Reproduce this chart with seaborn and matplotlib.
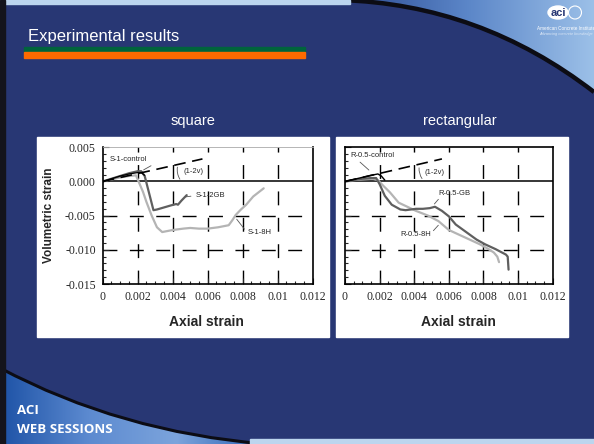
import numpy as np
import pandas as pd
import matplotlib.pyplot as plt
import matplotlib.patches as mpatches
from matplotlib.path import Path
from matplotlib.colors import LinearSegmentedColormap
from matplotlib.ticker import MultipleLocator
import seaborn as sns

#DATA
x_ticks = [0, 0.002, 0.004, 0.006, 0.008, 0.010, 0.012]
x_tick_labels = ['0', '0.002', '0.004', '0.006', '0.008', '0.01', '0.012']
y_ticks = [0.005, 0.0, -0.005, -0.010, -0.015]
y_tick_labels = ['0.005', '0.000', '-0.005', '-0.010', '-0.015']

#square columns
s1_control_x = [0, 0.0005, 0.001, 0.0015, 0.002, 0.0022, 0.0024]
s1_control_y = [0, 0.0004, 0.0008, 0.0011, 0.0013, 0.0013, 0.0009]
s1_2gb_x = [0, 0.0005, 0.001, 0.0015, 0.002, 0.0022, 0.0024, 0.0026, 0.0028, 0.0029,
            0.0031, 0.0035, 0.0039, 0.0042, 0.0043, 0.0045, 0.0048]
s1_2gb_y = [0, 0.0004, 0.0008, 0.0012, 0.0015, 0.0015, 0.0008, -0.0012, -0.0032, -0.0042,
            -0.0041, -0.0038, -0.0035, -0.0033, -0.0034, -0.0028, -0.0020]
s1_8h_x = [0, 0.0005, 0.001, 0.0015, 0.0019, 0.0021, 0.0023, 0.0025, 0.0028, 0.0031,
           0.0034, 0.0036, 0.004, 0.0046, 0.005, 0.0055, 0.006, 0.0066, 0.0072, 0.0074,
           0.0076, 0.0079, 0.0082, 0.0086, 0.0092]
s1_8h_y = [0, 0.0003, 0.0006, 0.0008, 0.0009, -0.0003, -0.0015, -0.003, -0.005, -0.0067,
           -0.0074, -0.0073, -0.0071, -0.0069, -0.0068, -0.0069, -0.0069, -0.0067, -0.0064, -0.0057,
           -0.0049, -0.0041, -0.0034, -0.0022, -0.0010]
s1_ref_x = [0, 0.0057]
s1_ref_y = [0, 0.0033]

#rectangular columns
r_control_x = [0, 0.0005, 0.001, 0.0015, 0.0019, 0.0021, 0.0023]
r_control_y = [0, 0.0003, 0.0006, 0.0009, 0.0011, 0.0008, 0.0002]
r_gb_x = [0, 0.0005, 0.001, 0.0015, 0.0018, 0.002, 0.0023, 0.0027, 0.0032, 0.0035,
          0.0041, 0.0045, 0.0049, 0.0052, 0.0056, 0.006, 0.0064, 0.007, 0.0076, 0.0081,
          0.0087, 0.0093, 0.0094, 0.00945]
r_gb_y = [0, 0.0002, 0.0004, 0.0005, 0.0005, -0.0004, -0.0021, -0.0034, -0.0041, -0.0042,
          -0.0040, -0.0040, -0.0039, -0.0037, -0.0043, -0.0051, -0.0063, -0.0074, -0.0085, -0.0092,
          -0.0099, -0.0107, -0.0110, -0.0129]
r_8h_x = [0, 0.0005, 0.001, 0.0016, 0.0019, 0.0022, 0.0026, 0.0031, 0.0041, 0.0048,
          0.0054, 0.006, 0.0066, 0.0072, 0.0078, 0.0083, 0.0086, 0.0088, 0.0089]
r_8h_y = [0, 0.0002, 0.0003, 0.0004, 0.0002, -0.0006, -0.0016, -0.0031, -0.0043, -0.0050,
          -0.0058, -0.0071, -0.0078, -0.0085, -0.0092, -0.0099, -0.0104, -0.0110, -0.0118]
r_ref_x = [0, 0.0056]
r_ref_y = [0, 0.0033]

#SETUP
sns.set_style('white')
plt.rcParams['font.family'] = ['Liberation Sans', 'DejaVu Sans']

W, H = 594, 444
NAVY = '#283774'
fig = plt.figure(figsize=(5.94, 4.44), dpi=100)
fig.patch.set_facecolor(NAVY)

#background in pixel coords
bg = fig.add_axes([0, 0, 1, 1])
bg.set_xlim(0, W)
bg.set_ylim(H, 0)
bg.axis('off')


def grad_patch(verts, codes, colors, extent):
    patch = mpatches.PathPatch(Path(verts, codes), facecolor='none', edgecolor='none')
    bg.add_patch(patch)
    cmap = LinearSegmentedColormap.from_list('g', colors)
    img = bg.imshow(np.linspace(0, 1, 256)[None, :], cmap=cmap, extent=extent,
                    aspect='auto', zorder=1)
    img.set_clip_path(patch)


#top right swoosh
top_v = [(340, 0), (480, 4), (594, 92), (594, 0), (340, 0)]
top_c = [Path.MOVETO, Path.CURVE3, Path.CURVE3, Path.LINETO, Path.CLOSEPOLY]
grad_patch(top_v, top_c, ['#2a4890', '#5b86c8', '#9cc0e8'], (340, 594, 92, 0))
bg.add_patch(mpatches.PathPatch(Path(top_v[:3], top_c[:3]), facecolor='none',
                                edgecolor='#0c0c14', lw=3.2, zorder=2))
bg.add_patch(mpatches.Rectangle((0, 0), 350, 4, color='#bcd5ee', zorder=2))

#bottom left swoosh
bot_v = [(0, 368), (120, 432), (265, 444), (0, 444), (0, 368)]
bot_c = [Path.MOVETO, Path.CURVE3, Path.CURVE3, Path.LINETO, Path.CLOSEPOLY]
grad_patch(bot_v, bot_c, ['#1d52a6', '#5c8ad0', '#7ca4dc', '#2b62b4'], (0, 265, 444, 368))
bg.add_patch(mpatches.PathPatch(Path(bot_v[:3], bot_c[:3]), facecolor='none',
                                edgecolor='#0c0c14', lw=2.2, zorder=2))
bg.add_patch(mpatches.Rectangle((250, 439), 344, 5, color='#bcd5ee', zorder=2))
bg.add_patch(mpatches.Rectangle((0, 0), 5, H, color='#14141c', zorder=3))

#title and bars
bg.text(28, 36, 'Experimental results', color='white', fontsize=12, va='center',
        family=['Liberation Sans Narrow', 'Liberation Sans'], zorder=3)
bg.add_patch(mpatches.Rectangle((24, 47.5), 281, 5, color='#00643c', zorder=3))
bg.add_patch(mpatches.Rectangle((24, 52.5), 281, 6, color='#ff6a00', zorder=3))

#logo
bg.add_patch(mpatches.Ellipse((558, 12.5), 20, 13, color='white', zorder=3))
bg.text(558, 12.5, 'aci', color=NAVY, fontsize=8, fontweight='bold', ha='center',
        va='center', zorder=4)
bg.add_patch(mpatches.Circle((575, 12.5), 6.5, facecolor='none', edgecolor='white',
                             lw=0.8, zorder=3))
bg.text(566, 28, 'American Concrete Institute', color='white', fontsize=3.3,
        ha='center', va='center', zorder=3)
bg.text(566, 34, 'Advancing concrete knowledge', color='#dde8f6', fontsize=2.8,
        style='italic', ha='center', va='center', zorder=3)

#footer
bg.text(17, 410, 'ACI', color='white', fontsize=9.5, fontweight='bold',
        family=['Open Sans', 'Liberation Sans'], va='center', zorder=3)
bg.text(17, 429, 'WEB SESSIONS', color='white', fontsize=9.5, fontweight='bold',
        family=['Open Sans', 'Liberation Sans'], va='center', zorder=3)

#white panels and subtitles
bg.add_patch(mpatches.Rectangle((37, 137), 292, 200, color='white', zorder=3))
bg.add_patch(mpatches.Rectangle((336, 137), 232, 200, color='white', zorder=3))
bg.text(193, 121, 'square', color='white', fontsize=10.5, ha='center', va='center')
bg.text(460, 121, 'rectangular', color='white', fontsize=10.5, ha='center', va='center')

#CHARTS
ax_b = 1 - 284 / H
ax_h = 136.7 / H
axL = fig.add_axes([102.7 / W, ax_b, 210 / W, ax_h])
axR = fig.add_axes([345 / W, ax_b, 207.7 / W, ax_h])

DARK = '#5f5f5f'
LIGHT = '#b4b4b4'


def draw(ax, x, y, color, lw, ls='-'):
    df = pd.DataFrame({'x': x, 'y': y})
    sns.lineplot(data=df, x='x', y='y', ax=ax, color=color, linewidth=lw,
                 sort=False, estimator=None, linestyle=ls)


def style(ax, ylabels):
    ax.set_facecolor('white')
    ax.set_xlim(0, 0.012)
    ax.set_ylim(-0.015, 0.005)
    ax.set_xticks(x_ticks)
    ax.set_xticklabels(x_tick_labels, family='Liberation Serif', fontsize=8.5)
    ax.set_yticks(y_ticks)
    if ylabels:
        ax.set_yticklabels(y_tick_labels, family='Liberation Serif', fontsize=8.5)
    else:
        ax.set_yticklabels([])
    ax.xaxis.set_minor_locator(MultipleLocator(0.0005))
    ax.yaxis.set_minor_locator(MultipleLocator(0.001))
    ax.tick_params(which='both', direction='in', left=True, bottom=True, width=0.8)
    ax.tick_params(which='major', length=4, pad=5)
    ax.tick_params(which='minor', length=2.5)
    for v in x_ticks[1:-1]:
        ax.axvline(v, color='black', lw=1, ls=(0, (10, 9)), zorder=0)
    for v in [-0.005, -0.010]:
        ax.axhline(v, color='black', lw=1, ls=(0, (10, 9)), zorder=0)
    ax.axhline(0, color='black', lw=1.1, zorder=1)
    for s in ax.spines.values():
        s.set_color('black')
        s.set_linewidth(1.2)
    ax.set_xlabel('Axial strain', fontsize=10, fontweight='bold', va='center')
    ax.set_ylabel('')


def leader(ax, a, b, rad=0.0):
    ax.annotate('', xy=a, xytext=b, arrowprops=dict(arrowstyle='-', color='#555555', lw=0.6,
                                                    connectionstyle=f'arc3,rad={rad}'))


#square
draw(axL, s1_8h_x, s1_8h_y, LIGHT, 1.6)
draw(axL, s1_2gb_x, s1_2gb_y, DARK, 1.6)
draw(axL, s1_control_x, s1_control_y, 'black', 0.9)
draw(axL, s1_ref_x, s1_ref_y, 'black', 1.2, (0, (7, 4)))
style(axL, True)
axL.spines['top'].set_color('#aaaaaa')
axL.spines['top'].set_linewidth(0.6)
axL.set_ylabel('Volumetric strain', fontsize=8.5, fontweight='bold', va='center', ha='center')
axL.yaxis.set_label_coords(-0.256, 0.5)
axL.xaxis.set_label_coords(0.495, -0.278)
fs = 5.5
axL.text(0.0004, 0.0032, 'S-1-control', fontsize=fs, va='center')
axL.text(0.0046, 0.0014, '(1-2v)', fontsize=fs, va='center')
axL.text(0.0053, -0.0021, 'S-1-2GB', fontsize=fs, va='center')
axL.text(0.0083, -0.0075, 'S-1-8H', fontsize=fs, va='center')
leader(axL, (0.0022, 0.0015), (0.0029, 0.0025))
leader(axL, (0.0043, 0.0025), (0.0045, 0.0), -0.25)
leader(axL, (0.0046, -0.0023), (0.0052, -0.0021))
leader(axL, (0.00756, -0.0052), (0.0082, -0.0073))

#rectangular
draw(axR, r_8h_x, r_8h_y, LIGHT, 1.6)
draw(axR, r_gb_x, r_gb_y, DARK, 1.6)
draw(axR, r_control_x, r_control_y, 'black', 1.0)
draw(axR, r_ref_x, r_ref_y, 'black', 1.2, (0, (7, 4)))
style(axR, False)
axR.xaxis.set_label_coords(0.545, -0.278)
axR.text(0.0016, 0.0038, 'R-0.5-control', fontsize=fs, ha='center', va='center')
axR.text(0.0046, 0.0013, '(1-2v)', fontsize=fs, va='center')
axR.text(0.0063, -0.0018, 'R-0.5-GB', fontsize=fs, ha='center', va='center')
axR.text(0.0041, -0.0077, 'R-0.5-8H', fontsize=fs, ha='center', va='center')
leader(axR, (0.00075, 0.0031), (0.0015, 0.0014))
leader(axR, (0.0043, 0.0024), (0.00455, 0.0001), -0.25)
leader(axR, (0.00506, -0.0036), (0.0055, -0.0023))
leader(axR, (0.0050, -0.0075), (0.0055, -0.0061))

plt.savefig('out.png', dpi=100, facecolor=fig.get_facecolor())
